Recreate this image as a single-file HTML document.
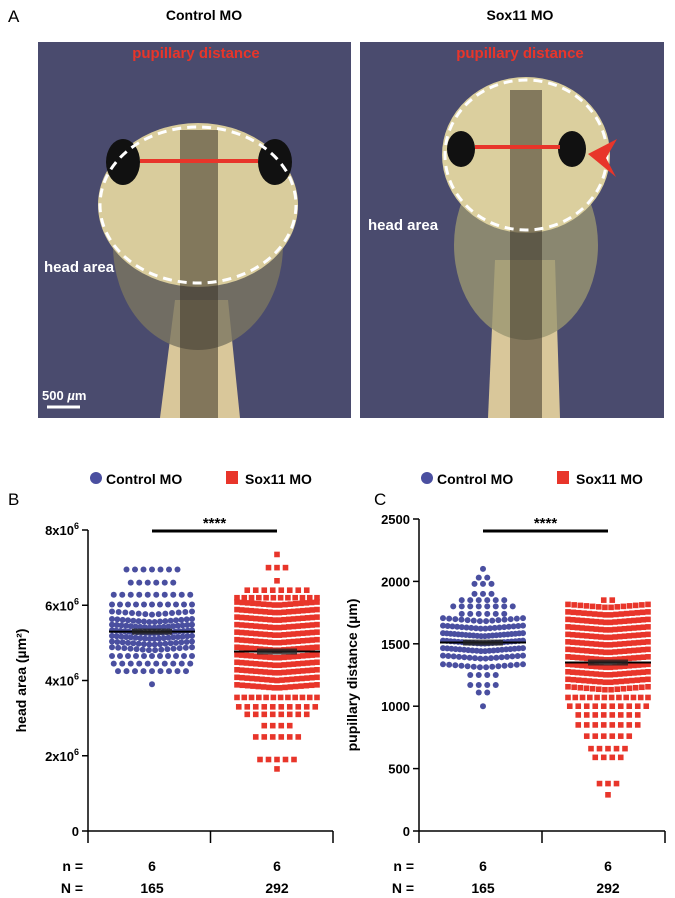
<!DOCTYPE html>
<html><head><meta charset="utf-8"><style>
body{margin:0;background:#fff;}
svg{display:block;font-family:"Liberation Sans",Arial,sans-serif;}
</style></head><body>
<svg id="fig" width="675" height="898" viewBox="0 0 675 898">
<g>
 <text x="8" y="22" font-size="17">A</text>
 <text x="204" y="20" font-size="14" font-weight="bold" text-anchor="middle">Control MO</text>
 <text x="520" y="20" font-size="14" font-weight="bold" text-anchor="middle">Sox11 MO</text>
 <g>
  <rect x="38" y="42" width="313" height="376" fill="#4a4b6e"/>
  <path d="M175,300 L160,418 L240,418 L228,300 Z" fill="#d9c79a"/>
  <ellipse cx="198" cy="245" rx="85" ry="105" fill="#7a7560" opacity="0.8"/>
  <ellipse cx="198" cy="205" rx="100" ry="82" fill="#d9cc9c"/>
  <rect x="180" y="130" width="38" height="288" fill="#3a3328" opacity="0.55"/>
  <ellipse cx="123" cy="162" rx="17" ry="23" fill="#111"/>
  <ellipse cx="275" cy="162" rx="17" ry="23" fill="#111"/>
  <line x1="140" y1="161" x2="258" y2="161" stroke="#e8352a" stroke-width="4"/>
  <ellipse cx="198" cy="205" rx="98" ry="78" fill="none" stroke="#fff" stroke-width="3" stroke-dasharray="9,6"/>
  <text x="196" y="58" font-size="15" font-weight="bold" fill="#e8352a" text-anchor="middle">pupillary distance</text>
  <text x="44" y="272" font-size="15" font-weight="bold" fill="#fff">head area</text>
  <text x="42" y="400" font-size="13" font-weight="bold" fill="#fff">500 <tspan font-style="italic">µ</tspan>m</text>
  <line x1="47" y1="407" x2="80" y2="407" stroke="#fff" stroke-width="3"/>
 </g>
 <g>
  <rect x="360" y="42" width="304" height="376" fill="#4a4b6e"/>
  <path d="M495,260 L488,418 L560,418 L555,260 Z" fill="#d9c79a"/>
  <ellipse cx="526" cy="245" rx="72" ry="95" fill="#9a9670" opacity="0.8"/>
  <ellipse cx="526" cy="155" rx="84" ry="78" fill="#dbcf9e"/>
  <rect x="510" y="90" width="32" height="328" fill="#3a3328" opacity="0.55"/>
  <ellipse cx="461" cy="149" rx="14" ry="18" fill="#111"/>
  <ellipse cx="572" cy="149" rx="14" ry="18" fill="#111"/>
  <line x1="475" y1="147" x2="560" y2="147" stroke="#e8352a" stroke-width="4"/>
  <ellipse cx="526" cy="155" rx="81" ry="75" fill="none" stroke="#fff" stroke-width="3" stroke-dasharray="9,6"/>
  <polygon points="588,154 617,139 606,158 616,177" fill="#e8352a"/>
  <text x="520" y="58" font-size="15" font-weight="bold" fill="#e8352a" text-anchor="middle">pupillary distance</text>
  <text x="368" y="230" font-size="15" font-weight="bold" fill="#fff">head area</text>
 </g>
</g>
<g id="chartB"></g>
<g id="chartC"></g>
</svg>
<script>
// Panel B data (head area, x10^6 µm²): row value and point count
const bCtrlVals=[6.95,6.6,6.28,6.02,5.75,5.55,5.4,5.25,5.1,4.95,4.8,4.65,4.45,4.25,3.9];
const bCtrlCounts=[7,6,10,11,13,16,18,20,18,16,14,11,10,9,1];
const bSoxVals=[7.35,7.0,6.65,6.4,6.2,6.0,5.8,5.6,5.4,5.2,5.0,4.8,4.6,4.4,4.2,4.0,3.8,3.55,3.3,3.1,2.8,2.5,1.9,1.65];
const bSoxCounts=[1,3,1,8,12,16,18,18,18,18,18,18,18,18,18,17,16,12,10,8,4,6,5,1];
const bMeans=[5.3,4.77];
const bTicks=[0,2,4,6,8];
// Panel C data (pupillary distance µm)
const cCtrlVals=[2100,2030,1980,1900,1850,1800,1740,1680,1620,1560,1500,1440,1380,1310,1250,1170,1110,1000];
const cCtrlCounts=[1,2,3,3,6,8,6,14,18,22,22,20,16,14,4,4,2,1];
const cSoxVals=[1850,1790,1730,1670,1610,1550,1490,1430,1370,1310,1250,1190,1130,1070,1000,930,850,760,660,590,380,290];
const cSoxCounts=[2,14,16,18,18,18,18,18,18,18,18,16,14,12,10,8,8,6,5,4,3,1];
const cMeans=[1510,1350];
const cTicks=[0,500,1000,1500,2000,2500];
const nLabels=['6','6'], NLabels=['165','292'];
const NS='http://www.w3.org/2000/svg';
function mk(p,t,a){const e=document.createElementNS(NS,t);for(const k in a)e.setAttribute(k,a[k]);p.appendChild(e);return e;}
function chart(g,o){
 const y=v=>o.y0-(v-o.min)/(o.max-o.min)*(o.y0-o.y1);
 const lc=mk(g,'circle',{cx:o.ax+8,cy:478,r:6,fill:'#4a4fa0'});
 
 const lt=mk(g,'text',{x:o.ax+18,y:484,'font-size':14,'font-weight':'bold'});lt.textContent='Control MO';
 
 const ls=mk(g,'rect',{x:o.ax+138,y:471,width:12,height:13,fill:'#e8352a'});
 
 const lt2=mk(g,'text',{x:o.ax+157,y:484,'font-size':14,'font-weight':'bold'});lt2.textContent='Sox11 MO';
 
 const pl=mk(g,'text',{x:o.ax-80+o.plx,y:505,'font-size':17});pl.textContent=o.label;
 
 const ya=mk(g,'line',{x1:o.ax,y1:o.y1,x2:o.ax,y2:o.y0,stroke:'#000','stroke-width':1.5});
 
 const xa=mk(g,'line',{x1:o.ax,y1:o.y0,x2:o.xend,y2:o.y0,stroke:'#000','stroke-width':1.5});
 
 [o.ax,(o.ax+o.xend)/2,o.xend].forEach(x=>mk(g,'line',{x1:x,y1:o.y0,x2:x,y2:o.y0+12,stroke:'#000','stroke-width':1.5}));
 o.ticks.forEach((t,i)=>{
  mk(g,'line',{x1:o.ax-6,y1:y(t),x2:o.ax,y2:y(t),stroke:'#000','stroke-width':1.5});
  const tx=mk(g,'text',{x:o.ax-9,y:y(t)+5,'font-size':13,'font-weight':'bold','text-anchor':'end'});
  
  if(o.sci&&t!==0){tx.textContent=t+'x10';const s=mk(tx,'tspan',{dy:-6,'font-size':9});s.textContent='6';}
  else tx.textContent=t;
 });
 const yt=mk(g,'text',{transform:`translate(${o.ax-62},${(o.y0+o.y1)/2}) rotate(-90)`,'font-size':14,'font-weight':'bold','text-anchor':'middle'});
 yt.textContent=o.ytitle;
 const sb=mk(g,'line',{x1:o.c1,y1:531,x2:o.c2,y2:531,stroke:'#000','stroke-width':3});
 
 const st=mk(g,'text',{x:(o.c1+o.c2)/2,y:528,'font-size':15,'font-weight':'bold','text-anchor':'middle'});
 st.textContent='****';
 const groups=[[o.cv,o.cc,o.c1,'#4a4fa0',true],[o.sv,o.sc,o.c2,'#e8352a',false]];
 groups.forEach(([vals,cnts,cx,col,circ],gi)=>{
  const maxW=40;
  vals.forEach((v,i)=>{
   const n=cnts[i];const step=n>1?Math.min(8.5,2*maxW/(n-1)):0;
   for(let k=0;k<n;k++){
    const dx=(k-(n-1)/2)*step;
    const yy=y(v)+Math.abs(dx)*(n>12?-0.08:0);
    let m;
    if(circ)m=mk(g,'circle',{cx:cx+dx,cy:yy,r:3,fill:col});
    else m=mk(g,'rect',{x:cx+dx-2.8,y:yy-2.8,width:5.6,height:5.6,fill:col});
    
    
   }
  });
  const my=y(o.means[gi]);
  const ml=mk(g,'line',{x1:cx-43,y1:my,x2:cx+43,y2:my,stroke:'#000','stroke-width':2});
  
  mk(g,'rect',{x:cx-20,y:my-3,width:40,height:6,fill:'#222',opacity:0.8});
  const t1=mk(g,'text',{x:cx,y:871,'font-size':14,'font-weight':'bold','text-anchor':'middle'});t1.textContent=nLabels[gi];
  
  const t2=mk(g,'text',{x:cx,y:893,'font-size':14,'font-weight':'bold','text-anchor':'middle'});t2.textContent=NLabels[gi];
  
 });
 const a=mk(g,'text',{x:o.ax-5,y:871,'font-size':14,'font-weight':'bold','text-anchor':'end'});a.textContent='n =';
 
 const b=mk(g,'text',{x:o.ax-5,y:893,'font-size':14,'font-weight':'bold','text-anchor':'end'});b.textContent='N =';
 
}
chart(document.getElementById('chartB'),{ax:88,xend:333,y0:831,y1:530,min:0,max:8,ticks:bTicks,sci:true,c1:152,c2:277,
 cv:bCtrlVals,cc:bCtrlCounts,sv:bSoxVals,sc:bSoxCounts,means:bMeans,label:'B',plx:0,ytitle:'head area (µm²)'});
chart(document.getElementById('chartC'),{ax:419,xend:665,y0:831,y1:519,min:0,max:2500,ticks:cTicks,sci:false,c1:483,c2:608,
 cv:cCtrlVals,cc:cCtrlCounts,sv:cSoxVals,sc:cSoxCounts,means:cMeans,label:'C',plx:35,ytitle:'pupillary distance (µm)'});
</script>
</body></html>
